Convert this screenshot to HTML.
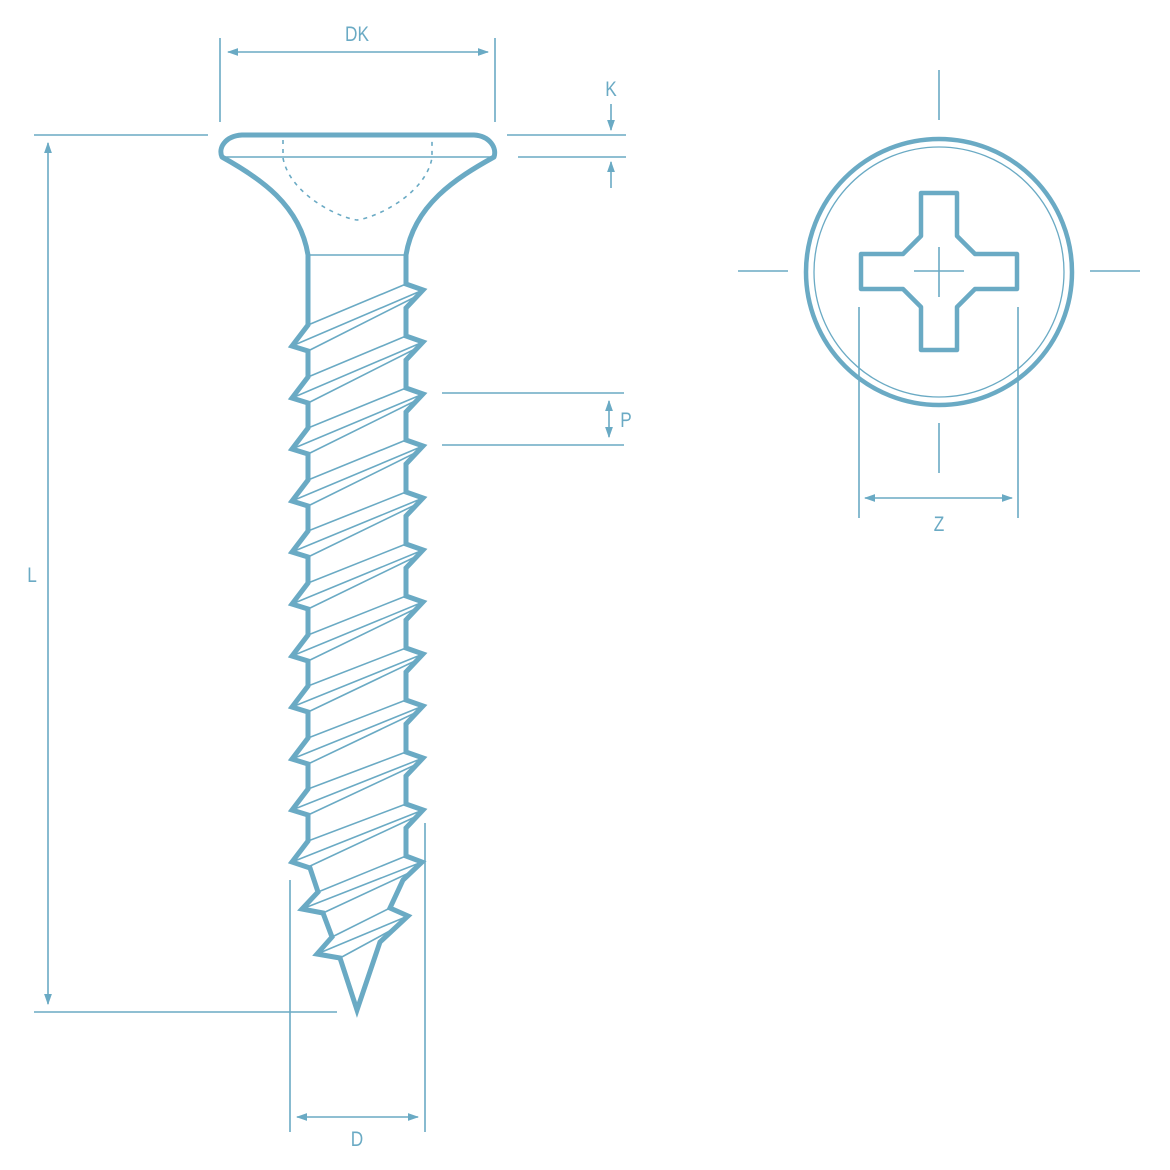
<!DOCTYPE html>
<html><head><meta charset="utf-8"><style>
html,body{margin:0;padding:0;background:#fff;}
svg{display:block;}
text{font-family:"Liberation Sans",sans-serif;font-size:21px;fill:#6aaac4;}
</style></head><body>
<svg width="1170" height="1170" viewBox="0 0 1170 1170" xmlns="http://www.w3.org/2000/svg">
<defs>
<marker id="a" viewBox="0 0 10 10" refX="9" refY="5" markerWidth="7" markerHeight="7" orient="auto-start-reverse">
<path d="M0,1.5 L10,5 L0,8.5 z" fill="#6aaac4"/></marker>
</defs>
<g stroke="#6aaac4" fill="none">
<!-- dimension lines thin -->
<g stroke-width="1.6">
<line x1="220" y1="38" x2="220" y2="122"/><line x1="495" y1="38" x2="495" y2="122"/>
<line x1="228" y1="52" x2="488" y2="52" marker-start="url(#a)" marker-end="url(#a)"/>
<line x1="507" y1="135" x2="626" y2="135"/><line x1="518" y1="157" x2="626" y2="157"/>
<line x1="611" y1="104" x2="611" y2="130" marker-end="url(#a)"/>
<line x1="611" y1="188" x2="611" y2="162" marker-end="url(#a)"/>
<line x1="34" y1="135" x2="208" y2="135"/><line x1="34" y1="1012" x2="337" y2="1012"/>
<line x1="48" y1="143" x2="48" y2="1004" marker-start="url(#a)" marker-end="url(#a)"/>
<line x1="442" y1="393" x2="624" y2="393"/><line x1="442" y1="445" x2="624" y2="445"/>
<line x1="609" y1="401" x2="609" y2="437" marker-start="url(#a)" marker-end="url(#a)"/>
<line x1="290" y1="880" x2="290" y2="1132"/><line x1="425" y1="823" x2="425" y2="1132"/>
<line x1="297" y1="1117" x2="418" y2="1117" marker-start="url(#a)" marker-end="url(#a)"/>
<!-- right view center lines -->
<line x1="939" y1="70" x2="939" y2="120"/><line x1="939" y1="423" x2="939" y2="473"/>
<line x1="738" y1="271" x2="788" y2="271"/><line x1="1090" y1="271" x2="1140" y2="271"/>
<line x1="914" y1="271" x2="964" y2="271"/><line x1="939" y1="247" x2="939" y2="297"/>
<line x1="859" y1="307" x2="859" y2="518"/><line x1="1018" y1="307" x2="1018" y2="518"/>
<line x1="865" y1="498" x2="1012" y2="498" marker-start="url(#a)" marker-end="url(#a)"/>
</g>
<!-- end view -->
<circle cx="939" cy="272" r="133" stroke-width="4.5"/>
<circle cx="939" cy="272" r="125" stroke-width="1.3"/>
<path stroke-width="4.5" stroke-linejoin="round" d="M921,193 L957,193 L957,236 L975,254 L1017,254 L1017,289 L975,289 L957,307 L957,350 L921,350 L921,307 L903,289 L861,289 L861,254 L903,254 L921,236 Z"/>
<!-- head -->
<path stroke-width="5" stroke-linejoin="round" d="M308,255 C300,205 260,178 222,157 C218,148 225,136 242,135 L474,135 C490,136 497,148 494,157 C456,178 414,205 406,255"/>
<line x1="224" y1="157" x2="492" y2="157" stroke-width="1.6"/>
<line x1="308" y1="255" x2="406" y2="255" stroke-width="1.6"/>
<path stroke-width="1.6" stroke-dasharray="4,5" d="M283,140 L283,158 C290,195 340,218 357,220 C375,218 425,195 432,158 L432,140"/>
<!-- shank outline -->
<path stroke-width="5" stroke-linejoin="miter" d="M308,255 L308,325 L292,346 L308,351 L308,377 L292,398 L308,403 L308,428 L292,449 L308,454 L308,480 L292,501 L308,506 L308,531 L292,552 L308,557 L308,583 L292,604 L308,609 L308,635 L292,656 L308,661 L308,686 L292,707 L308,712 L308,738 L292,759 L308,764 L308,789 L292,810 L308,815 L308,841 L292,862 L310,868 L318,892 L302,909 L323,913 L332,937 L317,954 L340,958 L357,1010 L380,942 L408,916 L390,908 L403,880 L422,862 L406,856 L406,828 L423,810 L406,804 L406,776 L423,758 L406,752 L406,724 L423,706 L406,700 L406,672 L423,654 L406,648 L406,620 L423,602 L406,596 L406,568 L423,550 L406,544 L406,516 L423,498 L406,492 L406,464 L423,446 L406,440 L406,412 L423,394 L406,388 L406,360 L423,342 L406,336 L406,308 L423,290 L406,284 L406,255"/>
<!-- thread lines -->
<g stroke-width="1.6">
<path d="M308,325L406,284M292,346L423,290M308,351L417,296"/>
<path d="M308,377L406,336M292,398L423,342M308,403L417,348"/>
<path d="M308,428L406,388M292,449L423,394M308,454L417,400"/>
<path d="M308,480L406,440M292,501L423,446M308,506L417,452"/>
<path d="M308,531L406,492M292,552L423,498M308,557L417,504"/>
<path d="M308,583L406,544M292,604L423,550M308,609L417,556"/>
<path d="M308,635L406,596M292,656L423,602M308,661L417,608"/>
<path d="M308,686L406,648M292,707L423,654M308,712L417,660"/>
<path d="M308,738L406,700M292,759L423,706M308,764L417,712"/>
<path d="M308,789L406,752M292,810L423,758M308,815L417,764"/>
<path d="M308,841L406,804M292,862L423,810M308,867L417,816"/>
<path d="M318,892L406,856M302,909L422,862M323,913L411,872"/>
<path d="M332,937L390,908M317,954L408,916M340,958L397,927"/>
</g>
</g>
<g text-anchor="middle">
<text x="357" y="41" transform="translate(357 0) scale(0.82 1) translate(-357 0)">DK</text>
<text x="611" y="96" transform="translate(611 0) scale(0.82 1) translate(-611 0)">K</text>
<text x="32" y="582" transform="translate(32 0) scale(0.82 1) translate(-32 0)">L</text>
<text x="626" y="427" transform="translate(626 0) scale(0.82 1) translate(-626 0)">P</text>
<text x="357" y="1146" transform="translate(357 0) scale(0.82 1) translate(-357 0)">D</text>
<text x="939" y="531" transform="translate(939 0) scale(0.82 1) translate(-939 0)">Z</text>
</g>
</svg>
</body></html>
